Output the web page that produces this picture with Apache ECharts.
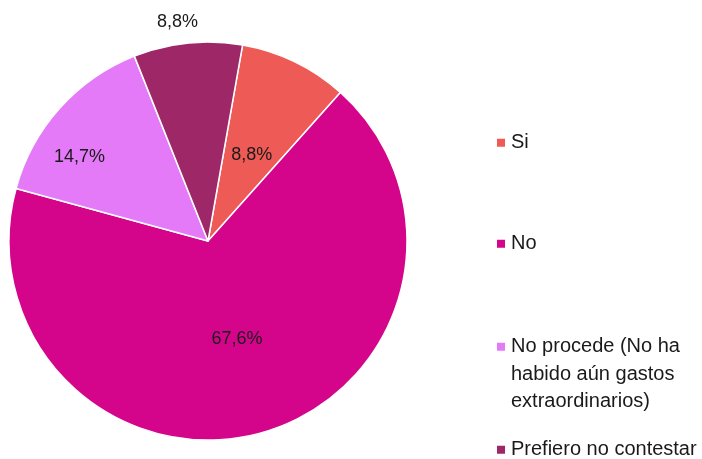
<!DOCTYPE html>
<html><head><meta charset="utf-8">
<script src="https://cdn.jsdelivr.net/npm/echarts@6/dist/echarts.min.js"></script>
<style>html,body{margin:0;padding:0;background:#fff}#c{width:702px;height:459px}</style>
</head><body><div id="c"></div>
<script>
const categories = ['Si', 'No', 'No procede (No ha\nhabido aún gastos\nextraordinarios)', 'Prefiero no contestar'];
const values = [8.8, 67.6, 14.7, 8.8];
const colors = ['#EE5B56', '#D4058B', '#E47AF8', '#9E2768'];
const labelOffsets = [[-1, 6], [0, 0], [-52, -16], [-20, -117]];

const FONT = '"Liberation Sans", Arial, sans-serif';
const chart = echarts.init(document.getElementById('c'));
const legendTops = [129, 230, 278, 436];
const legends = categories.map((n, i) => ({
  data: [n], left: 495, top: legendTops[i], orient: 'vertical', padding: 0,
  itemWidth: 10, itemHeight: 10, icon: 'rect', selectedMode: false,
  formatter: i === 2 ? (name => '\n\n' + name) : '{name}',
  textStyle: {fontFamily: FONT, fontSize: 20, color: '#1a1a1a', lineHeight: 27.5}
}));
chart.setOption({
  animation: false,
  legend: legends,
  series: [{
    type: 'pie', center: [208, 241], radius: 199, startAngle: 80, clockwise: true,
    itemStyle: {borderColor: '#fff', borderWidth: 1.5},
    label: {position: 'inside', fontFamily: FONT, fontSize: 18, color: '#1a1a1a',
      formatter: p => p.value.toFixed(1).replace('.', ',') + '%'},
    labelLine: {show: false},
    data: categories.map((n, i) => ({name: n, value: values[i], itemStyle: {color: colors[i]},
      label: {offset: labelOffsets[i]}}))
  }]
});
</script></body></html>
